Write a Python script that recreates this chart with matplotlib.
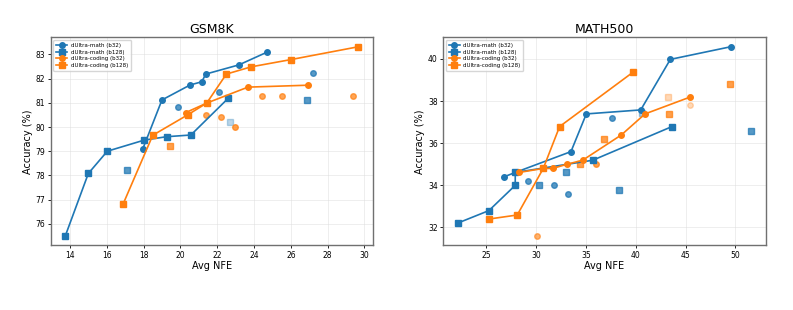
import matplotlib
matplotlib.use("Agg")
import matplotlib.pyplot as plt

BLUE = "#1f77b4"
ORANGE = "#ff7f0e"

# ---------------- GSM8K ----------------
gsm_math_b32_x = [17.95, 19.0, 20.53, 21.16, 21.38, 23.18, 24.72]
gsm_math_b32_y = [79.08, 81.12, 81.74, 81.87, 82.19, 82.57, 83.1]
gsm_math_b128_x = [13.75, 15.0, 16.03, 18.04, 19.25, 20.57, 22.6]
gsm_math_b128_y = [75.5, 78.08, 79.0, 79.46, 79.6, 79.67, 81.19]
gsm_code_b32_x = [20.3, 21.43, 23.67, 26.95]
gsm_code_b32_y = [80.6, 80.99, 81.65, 81.73]
gsm_code_b128_x = [16.88, 18.5, 20.39, 21.43, 22.5, 23.85, 26.01, 29.67]
gsm_code_b128_y = [76.8, 79.66, 80.5, 80.99, 82.19, 82.49, 82.79, 83.32]

gsm_sc_math_b32_x = [19.88, 22.1, 27.22]
gsm_sc_math_b32_y = [80.82, 81.43, 82.25]
gsm_sc_math_b32_a = [0.75, 0.75, 0.75]
gsm_sc_math_b128_x = [17.1, 26.88, 22.68]
gsm_sc_math_b128_y = [78.24, 81.12, 80.22]
gsm_sc_math_b128_a = [0.75, 0.75, 0.3]
gsm_sc_code_b32_x = [21.4, 22.22, 22.95, 24.46, 25.53, 29.4]
gsm_sc_code_b32_y = [80.51, 80.43, 79.99, 81.27, 81.27, 81.27]
gsm_sc_code_b32_a = [0.7, 0.7, 0.75, 0.7, 0.7, 0.7]
gsm_sc_code_b128_x = [19.41]
gsm_sc_code_b128_y = [79.22]
gsm_sc_code_b128_a = [0.75]

# ---------------- MATH500 ----------------
m5_math_b32_x = [26.77, 27.91, 33.5, 35.04, 40.5, 43.47, 49.53]
m5_math_b32_y = [34.4, 34.61, 35.6, 37.39, 37.58, 39.98, 40.58]
m5_math_b128_x = [22.16, 25.27, 27.91, 27.91, 35.68, 43.64]
m5_math_b128_y = [32.21, 32.8, 34.0, 34.61, 35.19, 36.79]
m5_code_b32_x = [28.28, 30.72, 31.66, 33.1, 34.67, 38.55, 40.93, 45.45]
m5_code_b32_y = [34.61, 34.8, 34.8, 35.0, 35.19, 36.39, 37.39, 38.19]
m5_code_b128_x = [25.3, 28.11, 30.72, 32.36, 39.75]
m5_code_b128_y = [32.4, 32.59, 34.8, 36.79, 39.38]

m5_sc_math_b32_x = [29.15, 31.76, 33.17, 37.65]
m5_sc_math_b32_y = [34.19, 34.0, 33.6, 37.19]
m5_sc_math_b32_a = [0.75, 0.75, 0.75, 0.75]
m5_sc_math_b128_x = [30.29, 32.97, 38.35, 40.6, 51.57]
m5_sc_math_b128_y = [34.0, 34.61, 33.8, 37.42, 36.6]
m5_sc_math_b128_a = [0.75, 0.75, 0.75, 0.4, 0.75]
m5_sc_code_b32_x = [30.12, 36.0, 45.45]
m5_sc_code_b32_y = [31.6, 35.0, 37.79]
m5_sc_code_b32_a = [0.6, 0.75, 0.3]
m5_sc_code_b128_x = [34.44, 36.81, 43.37, 43.27, 49.46]
m5_sc_code_b128_y = [35.0, 36.2, 37.39, 38.19, 38.81]
m5_sc_code_b128_a = [0.75, 0.75, 0.75, 0.3, 0.75]

labels = ["dUltra-math (b32)", "dUltra-math (b128)",
          "dUltra-coding (b32)", "dUltra-coding (b128)"]

fig = plt.figure(figsize=(7.93, 3.10), dpi=100)
ax1 = fig.add_axes([0.0639, 0.2087, 0.4065, 0.6710])
ax2 = fig.add_axes([0.5590, 0.2087, 0.4066, 0.6710])

MS = 4.0
LW = 1.2


def draw(ax, lines, scatters, title):
    for (x, y, c, m), lab in zip(lines, labels):
        ax.plot(x, y, color=c, marker=m, markersize=MS, linewidth=LW, label=lab, zorder=3)
    for x, y, a, c, m in scatters:
        for xi, yi, ai in zip(x, y, a):
            ax.plot([xi], [yi], linestyle="none", marker=m, markersize=MS,
                    color=c, alpha=ai, zorder=2)
    ax.set_title(title, fontsize=9, pad=3)
    ax.set_xlabel("Avg NFE", fontsize=7, labelpad=1)
    ax.set_ylabel("Accuracy (%)", fontsize=7, labelpad=2)
    ax.tick_params(labelsize=5.5, length=2.5, width=0.6, pad=1.5)
    ax.grid(True, color="#dddddd", linewidth=0.5, alpha=0.7)
    for s in ax.spines.values():
        s.set_color("#707070")
        s.set_linewidth(1.0)
    ax.legend(loc="upper left", fontsize=4.0, handlelength=2.0,
              borderpad=0.5, labelspacing=0.3, handletextpad=0.6,
              framealpha=0.8, edgecolor="#cccccc")


draw(ax1,
     [(gsm_math_b32_x, gsm_math_b32_y, BLUE, "o"),
      (gsm_math_b128_x, gsm_math_b128_y, BLUE, "s"),
      (gsm_code_b32_x, gsm_code_b32_y, ORANGE, "o"),
      (gsm_code_b128_x, gsm_code_b128_y, ORANGE, "s")],
     [(gsm_sc_math_b32_x, gsm_sc_math_b32_y, gsm_sc_math_b32_a, BLUE, "o"),
      (gsm_sc_math_b128_x, gsm_sc_math_b128_y, gsm_sc_math_b128_a, BLUE, "s"),
      (gsm_sc_code_b32_x, gsm_sc_code_b32_y, gsm_sc_code_b32_a, ORANGE, "o"),
      (gsm_sc_code_b128_x, gsm_sc_code_b128_y, gsm_sc_code_b128_a, ORANGE, "s")],
     "GSM8K")
ax1.set_xticks([14, 16, 18, 20, 22, 24, 26, 28, 30])
ax1.set_yticks([76, 77, 78, 79, 80, 81, 82, 83])

draw(ax2,
     [(m5_math_b32_x, m5_math_b32_y, BLUE, "o"),
      (m5_math_b128_x, m5_math_b128_y, BLUE, "s"),
      (m5_code_b32_x, m5_code_b32_y, ORANGE, "o"),
      (m5_code_b128_x, m5_code_b128_y, ORANGE, "s")],
     [(m5_sc_math_b32_x, m5_sc_math_b32_y, m5_sc_math_b32_a, BLUE, "o"),
      (m5_sc_math_b128_x, m5_sc_math_b128_y, m5_sc_math_b128_a, BLUE, "s"),
      (m5_sc_code_b32_x, m5_sc_code_b32_y, m5_sc_code_b32_a, ORANGE, "o"),
      (m5_sc_code_b128_x, m5_sc_code_b128_y, m5_sc_code_b128_a, ORANGE, "s")],
     "MATH500")
ax2.set_xticks([25, 30, 35, 40, 45, 50])
ax2.set_yticks([32, 34, 36, 38, 40])

fig.savefig("out.png", dpi=100)
